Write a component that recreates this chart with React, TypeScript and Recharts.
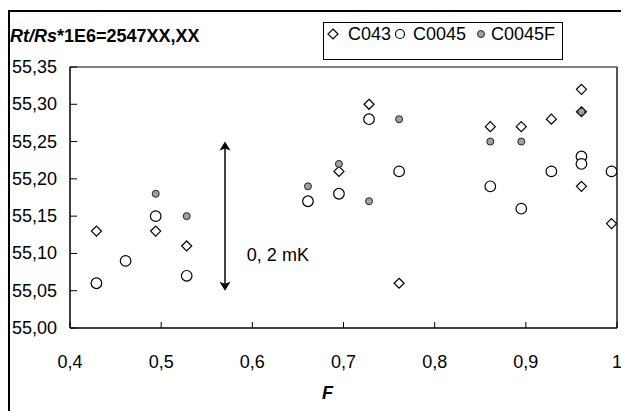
import React from 'react';
import {
  ScatterChart, Scatter, XAxis, YAxis, ReferenceLine, ReferenceDot, Legend,
} from 'recharts';

const xTicks = [0.4, 0.5, 0.6, 0.7, 0.8, 0.9, 1];
const yTicks = [55.0, 55.05, 55.1, 55.15, 55.2, 55.25, 55.3, 55.35];

const seriesNames = ['C043', 'C0045', 'C0045F'];

const c043F = [0.429, 0.494, 0.528, 0.695, 0.728, 0.761, 0.861, 0.895, 0.928, 0.961, 0.961, 0.961, 0.994];
const c043R = [55.13, 55.13, 55.11, 55.21, 55.30, 55.06, 55.27, 55.27, 55.28, 55.32, 55.29, 55.19, 55.14];

const c0045F = [0.429, 0.461, 0.494, 0.528, 0.661, 0.695, 0.728, 0.761, 0.861, 0.895, 0.928, 0.961, 0.961, 0.994];
const c0045R = [55.06, 55.09, 55.15, 55.07, 55.17, 55.18, 55.28, 55.21, 55.19, 55.16, 55.21, 55.23, 55.22, 55.21];

const c0045fF = [0.494, 0.528, 0.661, 0.695, 0.728, 0.761, 0.861, 0.895, 0.961];
const c0045fR = [55.18, 55.15, 55.19, 55.22, 55.17, 55.28, 55.25, 55.25, 55.29];

const toPoints = (xs: number[], ys: number[]) => xs.map((f, i) => ({ f, r: ys[i] }));

const FONT = 'Arial, "Liberation Sans", sans-serif';

const comma = (v: number, d: number) => (v === 1 ? '1' : v.toFixed(d).replace('.', ','));

const Diamond = (p: any) => {
  const { cx, cy } = p;
  const s = 5;
  return (
    <polygon
      points={`${cx},${cy - s} ${cx + s},${cy} ${cx},${cy + s} ${cx - s},${cy}`}
      fill="#fff"
      stroke="#000"
      strokeWidth={1.2}
    />
  );
};

const OpenCircle = (p: any) => (
  <circle cx={p.cx} cy={p.cy} r={5.3} fill="#fff" stroke="#000" strokeWidth={1.2} />
);

const GreyDot = (p: any) => (
  <circle cx={p.cx} cy={p.cy} r={3.5} fill="#a0a0a0" stroke="#222" strokeWidth={1} />
);

const YTick = (p: any) => (
  <g>
    <line x1={p.x} y1={p.y} x2={p.x + 7} y2={p.y} stroke="#000" strokeWidth={1} />
    <text x={p.x - 13} y={p.y} textAnchor="end" dominantBaseline="central" fontSize={18} fill="#000">
      {comma(p.payload.value, 2)}
    </text>
  </g>
);

const XTick = (p: any) => (
  <g>
    <line x1={p.x} y1={p.y} x2={p.x} y2={p.y - 6} stroke="#000" strokeWidth={1} />
    <text x={p.x} y={p.y + 34} textAnchor="middle" dominantBaseline="central" fontSize={18} fill="#000">
      {comma(p.payload.value, 1)}
    </text>
  </g>
);

const Arrow = (p: any) => {
  const { x1, y1, x2, y2 } = p;
  const top = Math.min(y1, y2);
  const bot = Math.max(y1, y2);
  return (
    <g>
      <line x1={x1} y1={top + 6} x2={x2} y2={bot - 6} stroke="#444" strokeWidth={2} />
      <polygon points={`${x1},${top} ${x1 + 5.5},${top + 9} ${x1},${top + 7} ${x1 - 5.5},${top + 9}`} fill="#000" />
      <polygon points={`${x1},${bot} ${x1 + 5.5},${bot - 9} ${x1},${bot - 7} ${x1 - 5.5},${bot - 9}`} fill="#000" />
    </g>
  );
};

const legendIcons = [
  <polygon key="d" points="0,-5 5,0 0,5 -5,0" fill="#fff" stroke="#000" strokeWidth={1.2} />,
  <circle key="c" r={4.5} fill="#fff" stroke="#000" strokeWidth={1.2} />,
  <circle key="g" r={3.5} fill="#a0a0a0" stroke="#222" strokeWidth={1} />,
];
const iconLeft = [9, 76, 157];
const textLeft = [24, 89, 167];

const LegendBox = (props: any) => {
  const items = [...(props.payload || [])].sort(
    (a: any, b: any) => seriesNames.indexOf(a.value) - seriesNames.indexOf(b.value),
  );
  return (
    <div style={{
      position: 'relative', width: 240, height: 38, boxSizing: 'border-box',
      border: '1px solid #000', background: '#fff', fontFamily: FONT, fontSize: 18,
    }}
    >
      {items.map((it: any, i: number) => (
        <React.Fragment key={it.value}>
          <svg width={14} height={14} style={{ position: 'absolute', left: iconLeft[i] - 7, top: 4 }}>
            <g transform="translate(7,7)">{legendIcons[i]}</g>
          </svg>
          <span style={{ position: 'absolute', left: textLeft[i], top: 1, lineHeight: '20px', color: '#000' }}>
            {it.value}
          </span>
        </React.Fragment>
      ))}
    </div>
  );
};

export default function App() {
  return (
    <div style={{
      marginTop: 2, width: 621, height: 401, boxSizing: 'border-box', position: 'relative',
      borderTop: '2px solid #000', borderLeft: '2px solid #000', fontFamily: FONT,
    }}
    >
      <div style={{
        position: 'absolute', left: 0, top: 14, fontSize: 18, fontWeight: 'bold', lineHeight: '20px', zIndex: 2,
      }}
      >
        <i>Rt/Rs</i>*1E6=2547XX,XX
      </div>
      <ScatterChart width={619} height={399} margin={{ top: 55, right: 12, left: 0, bottom: 33 }} style={{ fontFamily: FONT }}>
        <XAxis
          type="number"
          dataKey="f"
          domain={[0.4, 1]}
          ticks={xTicks}
          height={50}
          tickSize={0}
          tickMargin={0}
          tickLine={false}
          tick={<XTick />}
          axisLine={{ stroke: '#000', strokeWidth: 1.5 }}
          allowDataOverflow
          label={{ value: 'F', position: 'bottom', offset: 8, dx: -16, fontSize: 18, fontWeight: 'bold', fontStyle: 'italic', fill: '#000' }}
        />
        <YAxis
          type="number"
          dataKey="r"
          domain={[55.0, 55.35]}
          ticks={yTicks}
          width={60}
          tickSize={0}
          tickMargin={0}
          tickLine={false}
          tick={<YTick />}
          axisLine={{ stroke: '#000', strokeWidth: 1.5 }}
          allowDataOverflow
        />
        <ReferenceLine y={55.35} stroke="#000" strokeWidth={1} />
        <ReferenceLine x={1} stroke="#555" strokeWidth={2} />
        <ReferenceLine segment={[{ x: 0.57, y: 55.05 }, { x: 0.57, y: 55.25 }]} shape={<Arrow />} />
        <ReferenceDot
          x={0.594}
          y={55.098}
          r={0}
          shape={(p: any) => (
            <text x={p.cx} y={p.cy} dominantBaseline="central" fontSize={18} fill="#000">0, 2 mK</text>
          )}
        />
        <Legend
          layout="vertical"
          align="center"
          verticalAlign="middle"
          wrapperStyle={{ top: 10, left: 313, width: 240, height: 38 }}
          content={<LegendBox />}
        />
        <Scatter name="C043" data={toPoints(c043F, c043R)} shape={<Diamond />} isAnimationActive={false} />
        <Scatter name="C0045" data={toPoints(c0045F, c0045R)} shape={<OpenCircle />} isAnimationActive={false} />
        <Scatter name="C0045F" data={toPoints(c0045fF, c0045fR)} shape={<GreyDot />} isAnimationActive={false} />
      </ScatterChart>
    </div>
  );
}
